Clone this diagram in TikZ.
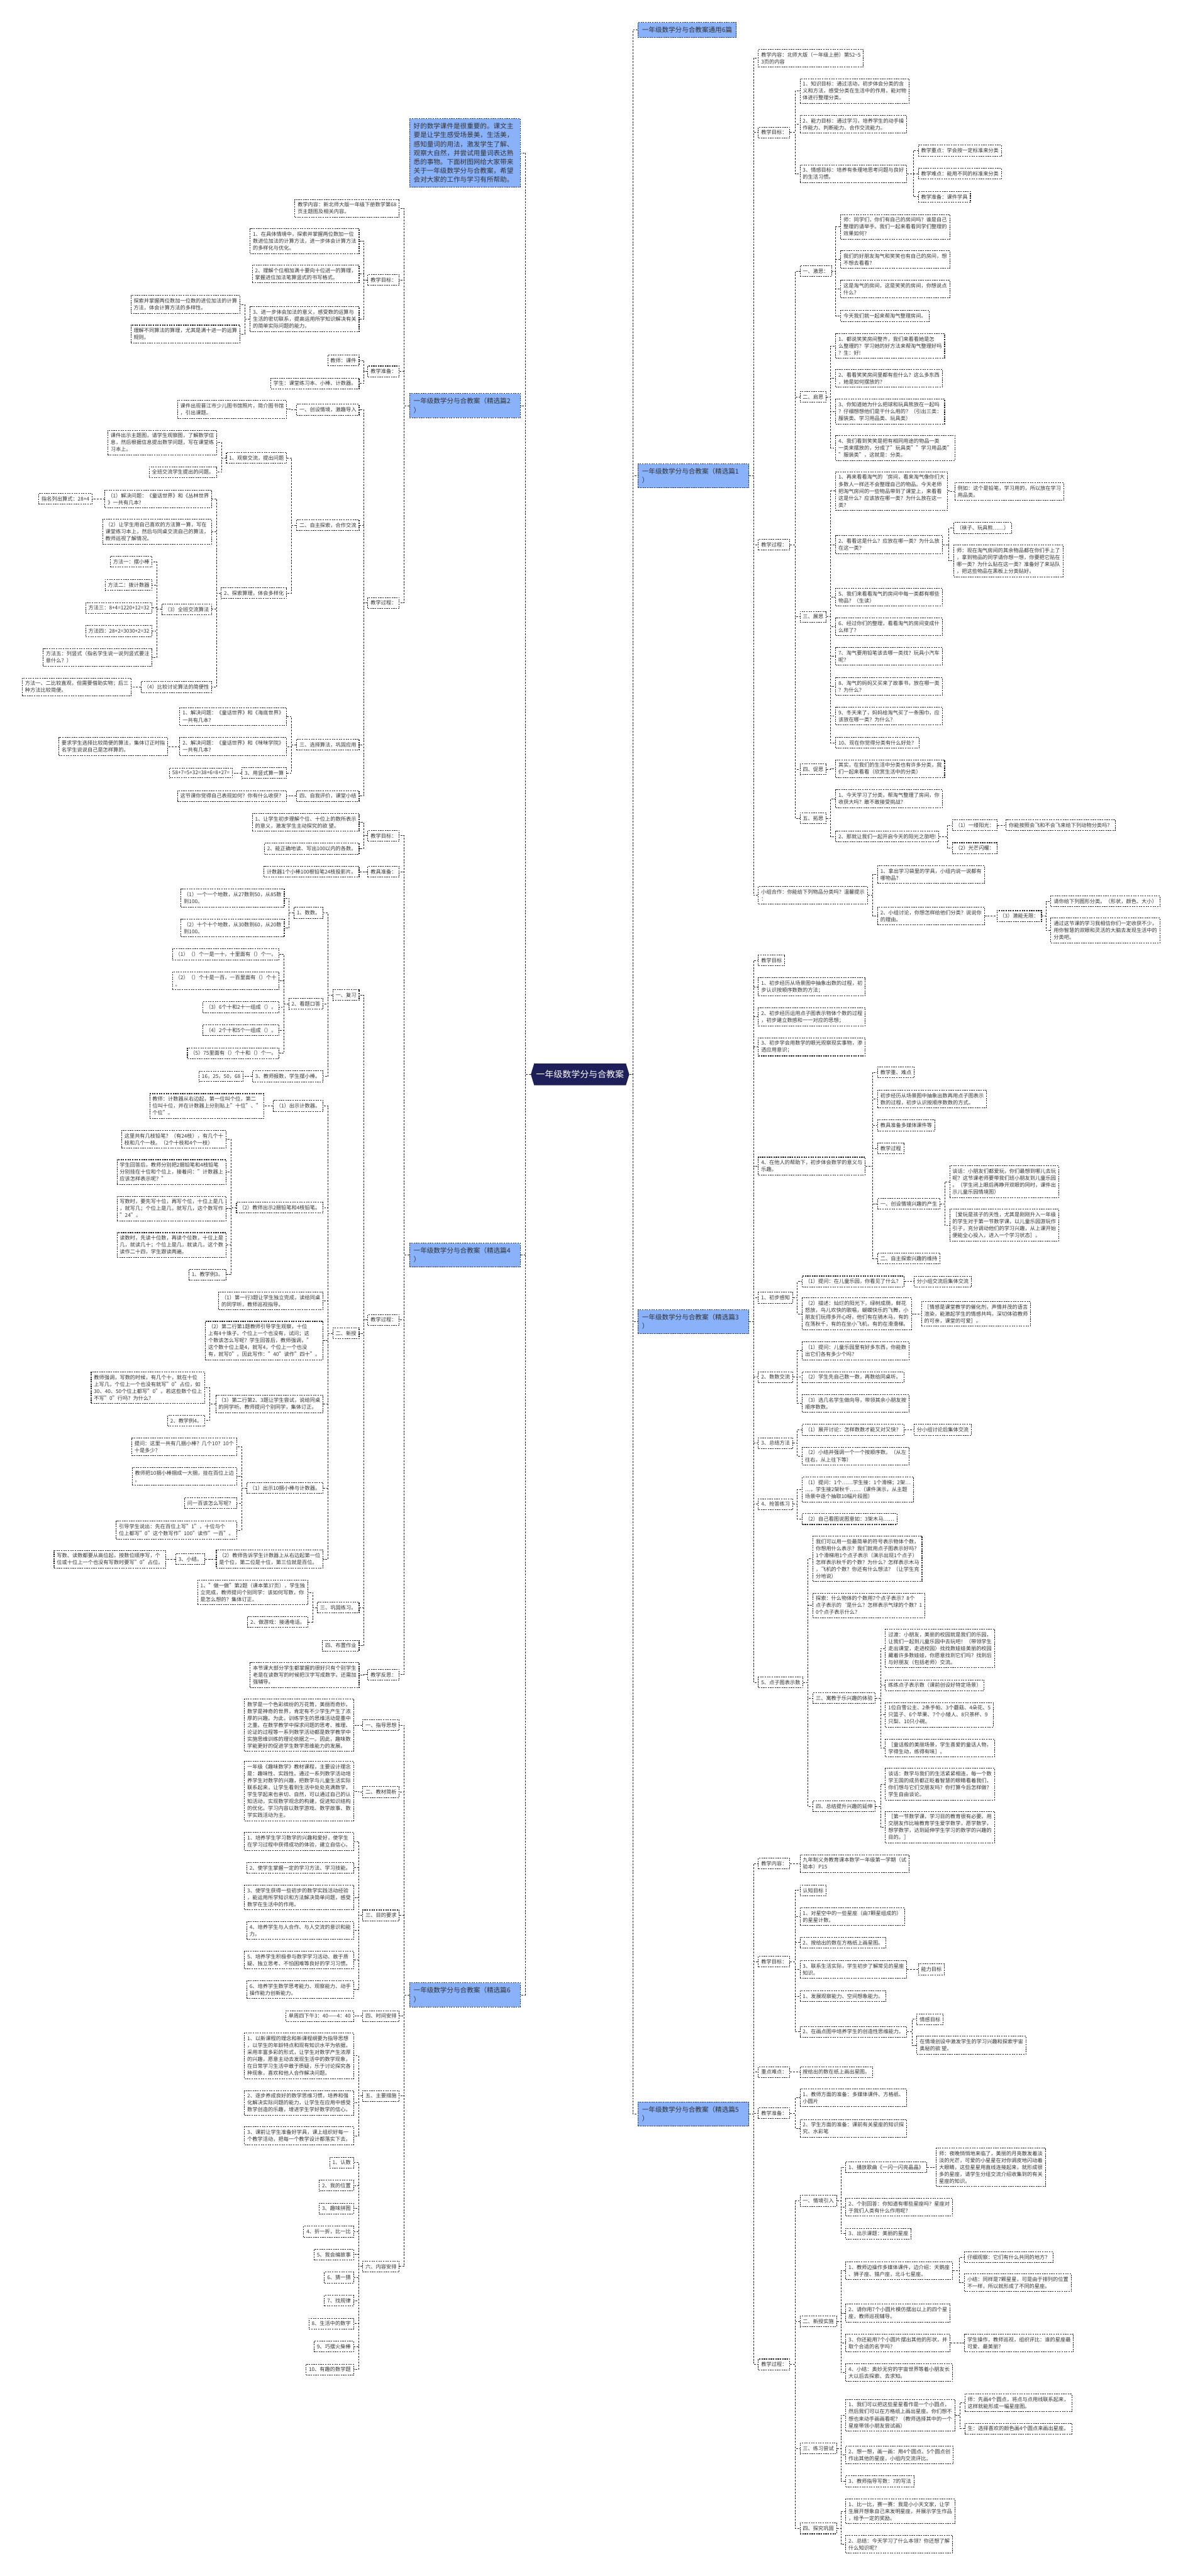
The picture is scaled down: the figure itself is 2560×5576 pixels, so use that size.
\documentclass[tikz,border=0pt]{standalone}
\usepackage{fontspec}
\setmainfont{Noto Sans CJK SC}
\usepackage{tikz}
\usetikzlibrary{calc,shapes.symbols}
\usepackage{xcolor}
\definecolor{mapnavy}{RGB}{30,31,88}
\definecolor{mapblue}{RGB}{138,178,250}
\definecolor{mapline}{RGB}{40,40,40}
\definecolor{mapedge}{RGB}{45,55,85}
\definecolor{maptext}{RGB}{50,50,50}

\begin{document}
\begin{tikzpicture}[
  x=1pt, y=-1pt,
  every node/.style={font=\fontsize{11.2}{15}\selectfont,text=maptext},
  leaf/.style={draw=mapline,fill=white,line width=1.4pt,dash pattern=on 3pt off 2pt,
    inner xsep=6pt,inner ysep=6.5pt,align=left},
  leafL/.style={leaf,anchor=east},
  leafR/.style={leaf,anchor=west},
  topic/.style={leaf,draw=mapedge,fill=mapblue,font=\fontsize{14.4}{19.3}\selectfont,
    inner xsep=9pt,inner ysep=9.5pt},
  topicL/.style={topic,anchor=east,text width=222pt},
  topicR/.style={topic,anchor=west},
  rootnode/.style={shape=signal,signal to=west and east,signal pointer angle=146,
    fill=mapnavy,text=white,font=\fontsize{19}{23}\selectfont,
    minimum width=213pt,minimum height=47pt,inner sep=0pt},
  link/.style={draw=mapline,line width=1.2pt,dash pattern=on 4pt off 2.5pt},
]
\useasboundingbox (0,0) rectangle (2560,5576);
\fill[white] (0,0) rectangle (2560,5576);

%% ── Centre ───────────────────────────────────────────────────────────────
\node[rootnode] (root) at (1255.5,2325.5) {一年级数学分与合教案};

%% ── Left main topics ─────────────────────────────────────────────────────
\node[topicL] (intro) at (1127,331) {好的数学课件是很重要的。课文主\\要是让学生感受场景美，生活美，\\感知量词的用法，激发学生了解、\\观察大自然，并尝试用量词表达熟\\悉的事物。下面树图网给大家带来\\关于一年级数学分与合教案，希望\\会对大家的工作与学习有所帮助。};
\node[topicL] (s2) at (1127,878) {一年级数学分与合教案（精选篇2\\）};
\node[topicL] (s4) at (1127,2717) {一年级数学分与合教案（精选篇4\\）};
\node[topicL] (s6) at (1127,4318) {一年级数学分与合教案（精选篇6\\）};

%% ── Right main topics ────────────────────────────────────────────────────
\node[topicR] (all6) at (1380,65) {一年级数学分与合教案通用6篇};
\node[topicR,text width=222pt] (s1) at (1380,1030) {一年级数学分与合教案（精选篇1\\）};
\node[topicR,text width=222pt] (s3) at (1380,2861) {一年级数学分与合教案（精选篇3\\）};
\node[topicR,text width=222pt] (s5) at (1380,4576) {一年级数学分与合教案（精选篇5\\）};

%% ── Part 2 ───────────────────────────────────────────────────────────────
\node[leafL] (s2a) at (865,451) {教学内容：新北师大版一年级下册数学第68\\页主题图及相关内容。};
\node[leafL] (s2b) at (865,606) {教学目标：};
\node[leafL] (s2c) at (865,804) {教学准备：};
\node[leafL] (s2d) at (865,1305) {教学过程：};
\node[leafL] (s2b1) at (778,522) {1、在具体情境中，探索并掌握两位数加一位\\数进位加法的计算方法，进一步体会计算方法\\的多样化与优化。};
\node[leafL] (s2b2) at (778,593) {2、理解个位相加满十要向十位进一的算理，\\掌握进位加法笔算竖式的书写格式。};
\node[leafL] (s2b3) at (778,691) {3、进一步体会加法的意义，感受数的运算与\\生活的密切联系，提高运用所学知识解决有关\\的简单实际问题的能力。};
\node[leafL] (s2b3a) at (520,659) {探索并掌握两位数加一位数的进位加法的计算\\方法，体会计算方法的多样性。};
\node[leafL] (s2b3b) at (520,723) {理解不同算法的算理，尤其是满十进一的运算\\规则。};
\node[leafL] (s2c1) at (778,780) {教师：课件};
\node[leafL] (s2c2) at (778,830) {学生：课堂练习本、小棒、计数器。};
\node[leafL] (s2d1) at (778,887) {一、创设情境，激趣导入};
\node[leafL] (s2d2) at (778,1137) {二、自主探索，合作交流};
\node[leafL] (s2d3) at (778,1612) {三、选择算法，巩固应用};
\node[leafL] (s2d4) at (778,1723) {四、自我评价，课堂小结};
\node[leafL] (s2d1a) at (621,886) {课件出现晋江市少儿图书馆照片，简介图书馆\\，引出课题。};
\node[leafL] (s2d2a) at (621,991) {1、观察交流，提出问题};
\node[leafL] (s2d2b) at (621,1284) {2、探索算理，体会多样化};
\node[leafL] (s2d2a1) at (470,958) {课件出示主题图，请学生观察图，了解数学信\\息，然后根据信息提出数学问题，写在课堂练\\习本上。};
\node[leafL] (s2d2a2) at (470,1022) {全班交流学生提出的问题。};
\node[leafL] (s2d2b1) at (459,1080) {（1）解决问题：《童话世界》和《丛林世界\\》一共有几本?};
\node[leafL] (s2d2b2) at (459,1151) {（2）让学生用自己喜欢的方法算一算，写在\\课堂练习本上，然后与同桌交流自己的算法，\\教师巡视了解情况。};
\node[leafL] (s2d2b3) at (459,1319) {（3）全班交流算法};
\node[leafL] (s2d2b4) at (459,1487) {（4）比较讨论算法的简便性};
\node[leafL] (s2d2b1x) at (200,1080) {指名列出算式：28+4};
\node[leafL] (s2d2b3m1) at (330,1216) {方法一：摆小棒};
\node[leafL] (s2d2b3m2) at (330,1266) {方法二：拨计数器};
\node[leafL] (s2d2b3m3) at (330,1316) {方法三：8+4=1220+12=32};
\node[leafL] (s2d2b3m4) at (330,1366) {方法四：28+2=3030+2=32};
\node[leafL] (s2d2b3m5) at (330,1423) {方法五：列竖式（指名学生说一说列竖式要注\\意什么？）};
\node[leafL] (s2d2b4x) at (285,1487) {方法一、二比较直观，但需要借助实物；后三\\种方法比较简便。};
\node[leafL] (s2d3a) at (621,1551) {1、解决问题：《童话世界》和《海底世界》\\一共有几本?};
\node[leafL] (s2d3b) at (621,1616) {2、解决问题：《童话世界》和《咪咪学院》\\一共有几本?};
\node[leafL] (s2d3c) at (621,1673) {3、用竖式算一算};
\node[leafL] (s2d3bx) at (364,1616) {要求学生选择比较简便的算法，集体订正时指\\名学生说说自己是怎样算的。};
\node[leafL] (s2d3cx) at (504,1673) {58+7=5+32=38+6=8+27=};
\node[leafL] (s2d4a) at (621,1723) {这节课你觉得自己表现如何？你有什么收获？};

%% ── Part 4 ───────────────────────────────────────────────────────────────
\node[leafL] (s4a) at (865,1809) {教学目标：};
\node[leafL] (s4b) at (865,1887) {教具准备：};
\node[leafL] (s4c) at (865,2857) {教学过程：};
\node[leafL] (s4d) at (865,3625) {教学反思：};
\node[leafL] (s4a1) at (778,1780) {1、让学生初步理解个位、十位上的数所表示\\的意义，激发学生主动探究的欲 望。};
\node[leafL] (s4a2) at (778,1837) {2、能正确地读、写出100以内的各数。};
\node[leafL] (s4b1) at (778,1887) {计数器1个小棒100根铅笔24枝投影片。};
\node[leafL] (s4c1) at (778,2154) {一、复习};
\node[leafL] (s4c2) at (778,2886) {二、新授};
\node[leafL] (s4c3) at (778,3480) {三、巩固练习。};
\node[leafL] (s4c4) at (778,3562) {四、布置作业};
\node[leafL] (s4c1a) at (700,1976) {1、数数。};
\node[leafL] (s4c1b) at (700,2173) {2、看题口答};
\node[leafL] (s4c1c) at (700,2330) {3、教师报数，学生摆小棒。};
\node[leafL] (s4c1a1) at (616,1944) {（1）一个一个地数，从27数到50，从85数\\到100。};
\node[leafL] (s4c1a2) at (616,2009) {（2）十个十个地数，从30数到60，从20数\\到100。};
\node[leafL] (s4c1b1) at (605,2066) {（1）（）个一是一十，十里面有（）个一。};
\node[leafL] (s4c1b2) at (605,2123) {（2）（）个十是一百，一百里面有（）个十\\。};
\node[leafL] (s4c1b3) at (605,2180) {（3）6个十和2十一组成（）。};
\node[leafL] (s4c1b4) at (605,2230) {（4）2个十和5个一组成（）。};
\node[leafL] (s4c1b5) at (605,2280) {（5）75里面有（）个十和（）个一。};
\node[leafL] (s4c1c1) at (527,2330) {16，25，50，68};
\node[leafL] (s4c2a) at (700,2394) {（1）出示计数器。};
\node[leafL] (s4c2b) at (700,2614) {（2）教师出示2捆铅笔和4枝铅笔。};
\node[leafL] (s4c2c) at (700,2816) {（1）第一行3题让学生独立完成，读给同桌\\的同学听，教师巡视指导。};
\node[leafL] (s4c2d) at (700,2902) {（2）第二行第1题教师引导学生观察，十位\\上有4十珠子。个位上一个也没有，试问；这\\个数该怎么写呢？学生回答后，教师强调，"\\这个数十位上是4，就写4，个位上一个也没\\有，就写0"。因此写作："40"读作"四十"。};
\node[leafL] (s4c2e) at (700,3039) {（3）第二行第2、3题让学生尝试，说给同桌\\的同学听。教师提问个别同学，集体订正。};
\node[leafL] (s4c2f) at (700,3221) {（1）出示10捆小棒与计数器。};
\node[leafL] (s4c2g) at (700,3375) {（2）教师告诉学生计数器上从右边起第一位\\是个位，第二位是十位，第三位就是百位。};
\node[leafL] (s4c2a1) at (572,2394) {教师：计数器从右边起，第一位叫个位，第二\\位叫十位，并在计数器上分别贴上"十位"、"\\个位"。};
\node[leafL] (s4c2b1) at (490,2466) {这里共有几枝铅笔？（有24枝），有几个十\\枝和几个一枝。（2个十枝和4个一枝）};
\node[leafL] (s4c2b2) at (490,2537) {学生回答后，教师分别把2捆铅笔和4枝铅笔\\分别挂在十位和个位上，接着问："计数器上\\应该怎样表示呢？"};
\node[leafL] (s4c2b3) at (490,2616) {写数时，要先写十位，再写个位，十位上是几\\，就写几；个位上是几，就写几，这个数写作\\"24"。};
\node[leafL] (s4c2b4) at (490,2695) {读数时，先读十位数，再读个位数，十位上是\\几，就读几十；个位上是几，就读几，这个数\\读作二十四，学生跟读两遍。};
\node[leafL] (s4c2b5) at (490,2759) {1、教学例3。};
\node[leafL] (s4c2e1) at (444,3004) {教师强调，写数的时候，有几个十，就在十位\\上写几，个位上一个也没有就写"0"占位，如\\30、40、50个位上都写"0"。若这些数个位上\\不写"0"行吗？为什么？};
\node[leafL] (s4c2e2) at (444,3075) {2、教学例4。};
\node[leafL] (s4c2f1) at (513,3132) {提问：这里一共有几捆小棒？几个10？10个\\十是多少？};
\node[leafL] (s4c2f2) at (513,3196) {教师把10捆小棒捆成一大捆，挂在百位上边\\。};
\node[leafL] (s4c2f3) at (513,3254) {问一百该怎么写呢？};
\node[leafL] (s4c2f4) at (513,3312) {引导学生说出：先在百位上写"1"，十位与个\\位上都写"0"这个数写作"100"读作"一百"。};
\node[leafL] (s4c2g1) at (444,3375) {3、小结。};
\node[leafL] (s4c2g1x) at (360,3375) {写数、读数都要从高位起，按数位顺序写，个\\位或十位上一个也没有写数时要写"0"占位。};
\node[leafL] (s4c3a) at (667,3447) {1、"做一做"第2题（课本第37页），学生独\\立完成，教师提问个别同学：该如何写数，你\\是怎么想的？集体订正。};
\node[leafL] (s4c3b) at (667,3511) {2、做游戏：接通电话。};
\node[leafL] (s4d1) at (778,3626) {本节课大部分学生都掌握的很好只有个别学生\\老是在读数写的时候把汉字写成数字。还需加\\强辅导。};

%% ── Part 6 ───────────────────────────────────────────────────────────────
\node[leafL] (s6a) at (865,3734) {一、指导思想};
\node[leafL] (s6b) at (865,3879) {二、教材简析};
\node[leafL] (s6c) at (865,4146) {三、目的要求};
\node[leafL] (s6d) at (865,4364) {四、时间安排};
\node[leafL] (s6e) at (865,4537) {五、主要措施};
\node[leafL] (s6f) at (865,4906) {六、内容安排};
\node[leafL] (s6a1) at (766,3734) {数学是一个色彩缤纷的万花筒，美丽而奇妙。\\数学是神奇的世界，肯定有不少学生产生了浓\\厚的兴趣。为此，训练学生的思维活动是重中\\之重。在数学教学中探求问题的思考、推理、\\论证的过程等一系列数学活动都是数学教学中\\实施思维训练的理论依据之一。因此，趣味数\\学能更好的促进学生数学思维能力的发展。};
\node[leafL] (s6b1) at (766,3877) {一年级《趣味数学》教材课程，主要设计理念\\是：趣味性、实践性。通过一系列数学活动培\\养学生对数学的兴趣，把数学与儿童生活实际\\联系起来，让学生看到生活中处处充满数学，\\学生学起来也亲切、自然，可以通过自己的认\\知活动，实现数学观念的构建，促进知识结构\\的优化。学习内容以数学游戏、数学故事、数\\学实践活动为主。};
\node[leafL] (s6c1) at (766,3986) {1、培养学生学习数学的兴趣和爱好，使学生\\在学习过程中获得成功的体验，建立自信心。};
\node[leafL] (s6c2) at (766,4043) {2、使学生掌握一定的学习方法、学习技能。};
\node[leafL] (s6c3) at (766,4107) {3、使学生获得一些初步的数学实践活动经验\\，能运用所学知识和方法解决简单问题，感受\\数学在生活中的作用。};
\node[leafL] (s6c4) at (766,4179) {4、培养学生与人合作、与人交流的意识和能\\力。};
\node[leafL] (s6c5) at (766,4243) {5、培养学生积极参与数学学习活动、敢于质\\疑、独立思考、不怕困难等良好的学习习惯。};
\node[leafL] (s6c6) at (766,4307) {6、培养学生数学思考能力、观察能力、动手\\操作能力创新能力。};
\node[leafL] (s6d1) at (766,4364) {单周四下午3：40——4：40};
\node[leafL] (s6e1) at (766,4450) {1、以新课程的理念和新课程纲要为指导思想\\，以学生的年龄特点和现有知识水平为依据，\\采用丰富多彩的形式，让学生对数学产生浓厚\\的兴趣，愿意主动去发现生活中的数学现象，\\在日常学习生活中敢于质疑，乐于讨论探究各\\种现象，喜欢和他人合作解决问题。};
\node[leafL] (s6e2) at (766,4552) {2、逐步养成良好的数学思维习惯，培养和强\\化解决实际问题的能力，让学生在应用中感受\\数学创造的乐趣，增进学生学好数学的信心。};
\node[leafL] (s6e3) at (766,4623) {3、课前让学生准备好学具，课上组织好每一\\个教学活动，把每一个教学设计都落实下去。};
\foreach \t [count=\i] in {1、认数,2、我的位置,3、趣味拼图,4、折一折，比一比,5、我会编故事,6、猜一猜,7、找规律,8、生活中的数字,9、巧摆火柴棒,10、有趣的数学题}
  \node[leafL] (s6f\i) at (766,{4681+49.8*(\i-1)}) {\t};

%% ── Part 1 ───────────────────────────────────────────────────────────────
\node[leafR] (s1a) at (1641,126) {教学内容：北师大版（一年级上册）第52\textasciitilde5\\3页的内容};
\node[leafR] (s1b) at (1641,287) {教学目标：};
\node[leafR] (s1c) at (1641,1179) {教学过程：};
\node[leafR] (s1d) at (1641,1938) {小组合作：你能给下列物品分类吗？温馨提示\\：};
\node[leafR] (s1b1) at (1731,197) {1、知识目标：通过活动，初步体会分类的含\\义和方法，感受分类在生活中的作用，能对物\\体进行整理分类。};
\node[leafR] (s1b2) at (1731,269) {2、能力目标：通过学习，培养学生的动手操\\作能力、判断能力、合作交流能力。};
\node[leafR] (s1b3) at (1731,376) {3、情感目标：培养有条理地思考问题与良好\\的生活习惯。};
\node[leafR] (s1b3a) at (1987,326) {教学重点：学会按一定标准来分类};
\node[leafR] (s1b3b) at (1987,376) {教学难点：能用不同的标准来分类};
\node[leafR] (s1b3c) at (1987,426) {教学准备：课件学具};
\node[leafR] (s1c1) at (1731,587) {一、激思：};
\node[leafR] (s1c2) at (1731,859) {二、启思};
\node[leafR] (s1c3) at (1731,1335) {三、展思};
\node[leafR] (s1c4) at (1731,1665) {四、促思};
\node[leafR] (s1c5) at (1731,1771) {五、拓思};
\node[leafR] (s1c1a) at (1819,491) {师：同学们，你们有自己的房间吗？谁是自己\\整理的请举手。我们一起来看看同学们整理的\\效果如何？};
\node[leafR] (s1c1b) at (1819,562) {我们的好朋友淘气和笑笑也有自己的房间，想\\不想去看看？};
\node[leafR] (s1c1c) at (1819,626) {这是淘气的房间，这是笑笑的房间，你想说点\\什么？};
\node[leafR] (s1c1d) at (1819,684) {今天我们就一起来帮淘气整理房间。};
\node[leafR] (s1c2a) at (1808,749) {1、都说笑笑房间整齐，我们来看看她是怎\\么整理的？学习她的好方法来帮淘气整理好吗\\？生：好!};
\node[leafR] (s1c2b) at (1808,819) {2、看看笑笑房间里都有些什么？这么多东西\\，她是如何摆放的？};
\node[leafR] (s1c2c) at (1808,891) {3、你知道她为什么把球和玩具熊放在一起吗\\？仔细想想他们是干什么用的？（引出三类：\\服装类、学习用品类、玩具类）};
\node[leafR] (s1c2d) at (1808,970) {4、我们看到笑笑是把有相同用途的物品一类\\一类来摆放的，分成了"玩具类""学习用品类"\\"服装类"，这就是：分类。};
\node[leafR] (s1c3a) at (1808,1063) {1、再来看看淘气的`房间，看来淘气像你们大\\多数人一样还不会整理自己的物品。今天老师\\把淘气房间的一些物品带到了课堂上，来看看\\这是什么？应该放在哪一类？为什么放在这一\\类？};
\node[leafR] (s1c3ax) at (2066,1064) {例如：这个是铅笔，学习用的，所以放在学习\\用品类。};
\node[leafR] (s1c3b) at (1808,1179) {2、看看这是什么？应放在哪一类？为什么放\\在这一类？};
\node[leafR] (s1c3b1) at (2064,1143) {（袜子、玩具熊……）};
\node[leafR] (s1c3b2) at (2064,1214) {师：现在淘气房间的其余物品都在你们手上了\\，拿到物品的同学请你想一想，你要把它贴在\\哪一类？为什么贴在这一类？准备好了来站队\\，把这些物品在黑板上分类贴好。};
\node[leafR] (s1c3c) at (1808,1293) {5、我们来看看淘气的房间中每一类都有哪些\\物品？（生读）};
\node[leafR] (s1c3d) at (1808,1357) {6、经过你们的整理，看看淘气的房间变成什\\么样了？};
\node[leafR] (s1c3e) at (1808,1421) {7、淘气要用铅笔该去哪一类找？玩具小汽车\\呢？};
\node[leafR] (s1c3f) at (1808,1486) {8、淘气的妈妈又买来了故事书，放在哪一类\\？为什么？};
\node[leafR] (s1c3g) at (1808,1550) {9、冬天来了，妈妈给淘气买了一条围巾，应\\该放在哪一类？为什么？};
\node[leafR] (s1c3h) at (1808,1608) {10、现在你觉得分类有什么好处？};
\node[leafR] (s1c4a) at (1808,1664) {其实，在我们的生活中分类也有许多分类，我\\们一起来看看（欣赏生活中的分类）};
\node[leafR] (s1c5a) at (1808,1729) {1、今天学习了分类，帮淘气整理了房间，你\\收获大吗？敢不敢接受挑战？};
\node[leafR] (s1c5b) at (1808,1811) {2、那就让我们一起开启今天的阳光之旅吧!};
\node[leafR] (s1c5b1) at (2061,1786) {（1）一缕阳光：};
\node[leafR] (s1c5b1x) at (2177,1786) {你能按照会飞和不会飞来给下列动物分类吗？};
\node[leafR] (s1c5b2) at (2061,1836) {（2）光芒闪耀：};
\node[leafR] (s1d1) at (1899,1893) {1、拿出学习袋里的学具，小组内说一说都有\\哪物品？};
\node[leafR] (s1d2) at (1899,1983) {2、小组讨论，你想怎样给他们分类？说说你\\的理由。};
\node[leafR] (s1d2a) at (2157,1983) {（3）潜能无限：};
\node[leafR] (s1d2a1) at (2274,1951) {请你给下列图形分类。（形状，颜色、大小）};
\node[leafR] (s1d2a2) at (2274,2014) {通过这节课的学习我相信你们一定收获不少，\\用你智慧的双眼和灵活的大脑去发现生活中的\\分类吧。};

%% ── Part 3 ───────────────────────────────────────────────────────────────
\node[leafR] (s3a) at (1641,2079) {教学目标};
\node[leafR] (s3b) at (1641,2136) {1、初步经历从场景图中抽象出数的过程，初\\步认识按顺序数数的方法；};
\node[leafR] (s3c) at (1641,2201) {2、初步经历运用点子图表示物体个数的过程\\，初步建立数感和一一对应的思想；};
\node[leafR] (s3d) at (1641,2266) {3、初步学会用数学的眼光观察现实事物，渗\\透应用意识；};
\node[leafR] (s3e) at (1641,2524) {4、在他人的帮助下，初步体会数学的意义与\\乐趣。};
\node[leafR] (s3f) at (1641,2809) {1、初步感知};
\node[leafR] (s3g) at (1641,2981) {2、数数交流};
\node[leafR] (s3h) at (1641,3124) {3、总结方法};
\node[leafR] (s3i) at (1641,3256) {4、抢答练习};
\node[leafR] (s3j) at (1641,3642) {5、点子图表示数};
\node[leafR] (s3e1) at (1899,2321) {教学重、难点};
\node[leafR] (s3e2) at (1899,2379) {初步经历从场景图中抽象出数再用点子图表示\\数的过程，初步认识按顺序数数的方式。};
\node[leafR] (s3e3) at (1899,2436) {教具准备多媒体课件等};
\node[leafR] (s3e4) at (1899,2486) {教学过程};
\node[leafR] (s3e5) at (1899,2606) {一、创设情境兴趣的产生};
\node[leafR] (s3e6) at (1899,2724) {二、自主探索兴趣的维持};
\node[leafR] (s3e5a) at (2055,2558) {谈话：小朋友们都爱玩，你们最想到哪儿去玩\\呢？这节课老师要带我们班小朋友到儿童乐园\\。（学生闭上眼后再睁开双眼的同时，课件出\\示儿童乐园情境图）};
\node[leafR] (s3e5b) at (2055,2652) {［爱玩是孩子的天性，尤其是刚刚升入一年级\\的学生对于第一节数学课，以儿童乐园游玩作\\引子，充分调动他们的学习兴趣，从上课开始\\便能全心投入，进入一个学习状态］。};
\node[leafR] (s3f1) at (1736,2774) {（1）提问：在儿童乐园，你看见了什么？};
\node[leafR] (s3f1x) at (1978,2774) {分小组交流后集体交流};
\node[leafR] (s3f2) at (1736,2844) {（2）描述：灿烂的阳光下，绿树成荫，鲜花\\怒放，鸟儿欢快的歌唱，蝴蝶快乐的飞舞，小\\朋友们玩得多开心呀，他们有在骑木马，有的\\在荡秋千，有的在坐小飞机，有的在滑滑梯。};
\node[leafR] (s3f2x) at (1994,2844) {［情感是课堂教学的催化剂，声情并茂的语言\\渲染，能激起学生的情感共鸣，深切体验教师\\的可亲，课堂的可爱］。};
\node[leafR] (s3g1) at (1736,2924) {（1）提问：儿童乐园里有好多东西，你能数\\出它们各有多少个吗？};
\node[leafR] (s3g2) at (1736,2981) {（2）学生先自己数一数，再数给同桌听。};
\node[leafR] (s3g3) at (1736,3038) {（3）选几名学生做向导，带领其余小朋友按\\顺序数数。};
\node[leafR] (s3h1) at (1736,3095) {（1）展开讨论：怎样数数才能又对又快？};
\node[leafR] (s3h1x) at (1978,3095) {分小组讨论后集体交流};
\node[leafR] (s3h2) at (1736,3152) {（2）小结并强调一个一个按顺序数。（从左\\往右，从上往下等）};
\node[leafR] (s3i1) at (1736,3224) {（1）提问：1个……学生接：1个滑梯；2架…\\…，学生接2架秋千……（课件演示，从主题\\场景中逐个抽取10幅片段图）};
\node[leafR] (s3i2) at (1736,3288) {（2）自己看图说图意如：3架木马……};
\node[leafR] (s3j1) at (1759,3374) {我们可以用一些最简单的符号表示物体个数，\\你想用什么表示？我们就用点子图表示好吗？\\1个滑梯用1个点子表示（演示出现1个点子）\\怎样表示秋千的个数？为什么？怎样表示木马\\，飞机的个数？你还有什么想法？（让学生充\\分地说）};
\node[leafR] (s3j2) at (1759,3475) {探索：什么物体的个数用7个点子表示？8个\\点子表示的`是什么？怎样表示气球的个数？1\\0个点子表示什么？};
\node[leafR] (s3j3) at (1759,3676) {三、寓教于乐兴趣的体验};
\node[leafR] (s3j4) at (1759,3910) {四、总结提升兴趣的延伸};
\node[leafR] (s3j3a) at (1916,3568) {过渡：小朋友，美丽的校园就是我们的乐园，\\让我们一起到儿童乐园中去玩吧！（带领学生\\走出课堂，走进校园）找找数娃娃美丽的校园\\藏着许多数娃娃，你愿意找到它们吗？找到后\\与好朋友（包括老师）交流。};
\node[leafR] (s3j3b) at (1916,3648) {练练点子表示数（课前创设好特定场景）};
\node[leafR] (s3j3c) at (1916,3712) {1位白雪公主、2条手帕、3个蘑菇、4朵花、5\\只篮子、6个苹果、7个小矮人、8只茶杯、9\\只梨、10只小碗。};
\node[leafR] (s3j3d) at (1916,3784) {［童话般的美丽场景，学生喜爱的童话人物，\\学得生动，练得有味］。};
\node[leafR] (s3j4a) at (1916,3862) {谈话：数学与我们的生活紧紧相连，每一个数\\学王国的成员都正眨着智慧的眼睛看着我们，\\你们想与它们交朋友吗？你打算今后怎样做？\\学生自由谈论。};
\node[leafR] (s3j4b) at (1916,3955) {［第一节数学课，学习目的教育很有必要。用\\交朋友作比喻教育学生爱学数学，愿学数学，\\想学数学，达到延伸学生学习的数学的兴趣的\\目的。］};

%% ── Part 5 ───────────────────────────────────────────────────────────────
\node[leafR] (s5a) at (1641,4034) {教学内容：};
\node[leafR] (s5b) at (1641,4246) {教学目标：};
\node[leafR] (s5c) at (1641,4485) {重点难点：};
\node[leafR] (s5d) at (1641,4574) {教学准备：};
\node[leafR] (s5e) at (1641,5118) {教学过程：};
\node[leafR] (s5a1) at (1731,4034) {九年制义务教育课本数学一年级第一学期（试\\验本）P15};
\node[leafR] (s5b1) at (1731,4092) {认知目标};
\node[leafR] (s5b2) at (1731,4149) {1、对星空中的一些星座（由7颗星组成的）\\的星星计数。};
\node[leafR] (s5b3) at (1731,4205) {2、按给出的数在方格纸上画星图。};
\node[leafR] (s5b4) at (1731,4263) {3、联系生活实际，学生初步了解常见的星座\\知识。};
\node[leafR] (s5b4x) at (1987,4263) {能力目标};
\node[leafR] (s5b5) at (1731,4321) {1、发展观察能力、空间想象能力。};
\node[leafR] (s5b6) at (1731,4398) {2、在画点图中培养学生的创造性思维能力。};
\node[leafR] (s5b6a) at (1984,4371) {情感目标};
\node[leafR] (s5b6b) at (1984,4427) {在情境创设中激发学生的学习兴趣和探索宇宙\\奥秘的欲 望。};
\node[leafR] (s5c1) at (1731,4485) {按给出的数在纸上画出星图。};
\node[leafR] (s5d1) at (1731,4541) {1、教师方面的准备：多媒体课件、方格纸、\\小圆片};
\node[leafR] (s5d2) at (1731,4607) {2、学生方面的准备：课前有关星座的知识探\\究、水彩笔};
\node[leafR] (s5e1) at (1731,4764) {一、情境引入};
\node[leafR] (s5e2) at (1731,5025) {二、新授实施};
\node[leafR] (s5e3) at (1731,5300) {三、练习尝试};
\node[leafR] (s5e4) at (1731,5473) {四、探究巩固};
\node[leafR] (s5e1a) at (1830,4691) {1、播放歌曲《一闪一闪亮晶晶》};
\node[leafR] (s5e1ax) at (2026,4691) {师：夜晚悄悄地来临了，美丽的月亮散发着淡\\淡的光芒，可爱的小星星在对你调皮地闪动着\\大眼睛，这些星星用直线连接起来，就形成很\\多的星座，请学生分组交流介绍收集到的有关\\星座的知识。};
\node[leafR] (s5e1b) at (1830,4778) {2、个别回答：你知道有哪些星座吗？星座对\\于我们人类有什么作用呢？};
\node[leafR] (s5e1c) at (1830,4835) {3、出示课题：美丽的星座};
\node[leafR] (s5e2a) at (1830,4915) {1、教师边操作多媒体课件，边介绍：天鹅座\\、狮子座、猎户座，北斗七星座。};
\node[leafR] (s5e2a1) at (2087,4886) {仔细观察：它们有什么共同的地方？};
\node[leafR] (s5e2a2) at (2087,4941) {小结：同样是7颗星星，可是由于排列的位置\\不一样，所以就形成了不同的星座。};
\node[leafR] (s5e2b) at (1830,5007) {2、请你用7个小圆片模仿摆出以上的四个星\\座，教师巡视辅导。};
\node[leafR] (s5e2c) at (1830,5072) {3、你还能用7个小圆片摆出其他的形状，并\\取个合适的名字吗？};
\node[leafR] (s5e2cx) at (2087,5072) {学生操作，教师巡视，组织评比：谁的星座最\\可爱、最美丽？};
\node[leafR] (s5e2d) at (1830,5136) {4、小结：奥妙无穷的宇宙世界等着小朋友长\\大以后去探索、去求知。};
\node[leafR] (s5e3a) at (1830,5228) {1、我们可以把这些星星看作是一个小圆点，\\然后我们可以在方格纸上画出星座。你们想不\\想也来动手画画看呢？（教师选择其中的一个\\星座带领小朋友尝试画）};
\node[leafR] (s5e3a1) at (2088,5201) {师：先画4个圆点，将点与点用线联系起来，\\这样就能形成一幅星座图。};
\node[leafR] (s5e3a2) at (2088,5257) {生：选择喜欢的颜色画4个圆点来画出星座。};
\node[leafR] (s5e3b) at (1830,5314) {2、想一想，画一画：用4个圆点、5个圆点创\\作出其他的星座，小组内交流评比。};
\node[leafR] (s5e3c) at (1830,5371) {3、教师指导写数：7的写法};
\node[leafR] (s5e4a) at (1830,5436) {1、比一比，赛一赛：我是小小天文家，让学\\生展开想象自己来发明星座，并展示学生作品\\，给予一定的奖励。};
\node[leafR] (s5e4b) at (1830,5507) {2、总结：今天学习了什么本领？你还想了解\\什么知识呢？};

%% ── Connectors, left side ────────────────────────────────────────────────
\foreach \p/\c in {root/intro,root/s2,root/s4,root/s6,
  s2/s2a,s2/s2b,s2/s2c,s2/s2d,s2b/s2b1,s2b/s2b2,s2b/s2b3,s2b3/s2b3a,s2b3/s2b3b,
  s2c/s2c1,s2c/s2c2,s2d/s2d1,s2d/s2d2,s2d/s2d3,s2d/s2d4,s2d1/s2d1a,
  s2d2/s2d2a,s2d2/s2d2b,s2d2a/s2d2a1,s2d2a/s2d2a2,
  s2d2b/s2d2b1,s2d2b/s2d2b2,s2d2b/s2d2b3,s2d2b/s2d2b4,s2d2b1/s2d2b1x,
  s2d2b3/s2d2b3m1,s2d2b3/s2d2b3m2,s2d2b3/s2d2b3m3,s2d2b3/s2d2b3m4,s2d2b3/s2d2b3m5,
  s2d2b4/s2d2b4x,s2d3/s2d3a,s2d3/s2d3b,s2d3/s2d3c,s2d3b/s2d3bx,s2d3c/s2d3cx,s2d4/s2d4a,
  s4/s4a,s4/s4b,s4/s4c,s4/s4d,s4a/s4a1,s4a/s4a2,s4b/s4b1,
  s4c/s4c1,s4c/s4c2,s4c/s4c3,s4c/s4c4,s4c1/s4c1a,s4c1/s4c1b,s4c1/s4c1c,
  s4c1a/s4c1a1,s4c1a/s4c1a2,s4c1b/s4c1b1,s4c1b/s4c1b2,s4c1b/s4c1b3,s4c1b/s4c1b4,s4c1b/s4c1b5,
  s4c1c/s4c1c1,s4c2/s4c2a,s4c2/s4c2b,s4c2/s4c2c,s4c2/s4c2d,s4c2/s4c2e,s4c2/s4c2f,s4c2/s4c2g,
  s4c2a/s4c2a1,s4c2b/s4c2b1,s4c2b/s4c2b2,s4c2b/s4c2b3,s4c2b/s4c2b4,s4c2b/s4c2b5,
  s4c2e/s4c2e1,s4c2e/s4c2e2,s4c2f/s4c2f1,s4c2f/s4c2f2,s4c2f/s4c2f3,s4c2f/s4c2f4,
  s4c2g/s4c2g1,s4c2g1/s4c2g1x,s4c3/s4c3a,s4c3/s4c3b,s4d/s4d1,
  s6/s6a,s6/s6b,s6/s6c,s6/s6d,s6/s6e,s6/s6f,s6a/s6a1,s6b/s6b1,
  s6c/s6c1,s6c/s6c2,s6c/s6c3,s6c/s6c4,s6c/s6c5,s6c/s6c6,s6d/s6d1,s6e/s6e1,s6e/s6e2,s6e/s6e3}
  \draw[link] (\p.west) -| ($(\c.east)+(10,0)$) -- (\c.east);
\foreach \i in {1,...,10}
  \draw[link] (s6f.west) -| ($(s6f\i.east)+(10,0)$) -- (s6f\i.east);

%% ── Connectors, right side ───────────────────────────────────────────────
\foreach \p/\c in {root/all6,root/s1,root/s3,root/s5,
  s1/s1a,s1/s1b,s1/s1c,s1/s1d,s1b/s1b1,s1b/s1b2,s1b/s1b3,s1b3/s1b3a,s1b3/s1b3b,s1b3/s1b3c,
  s1c/s1c1,s1c/s1c2,s1c/s1c3,s1c/s1c4,s1c/s1c5,
  s1c1/s1c1a,s1c1/s1c1b,s1c1/s1c1c,s1c1/s1c1d,s1c2/s1c2a,s1c2/s1c2b,s1c2/s1c2c,s1c2/s1c2d,
  s1c3/s1c3a,s1c3a/s1c3ax,s1c3/s1c3b,s1c3b/s1c3b1,s1c3b/s1c3b2,s1c3/s1c3c,s1c3/s1c3d,
  s1c3/s1c3e,s1c3/s1c3f,s1c3/s1c3g,s1c3/s1c3h,s1c4/s1c4a,s1c5/s1c5a,s1c5/s1c5b,
  s1c5b/s1c5b1,s1c5b1/s1c5b1x,s1c5b/s1c5b2,s1d/s1d1,s1d/s1d2,s1d2/s1d2a,s1d2a/s1d2a1,s1d2a/s1d2a2,
  s3/s3a,s3/s3b,s3/s3c,s3/s3d,s3/s3e,s3/s3f,s3/s3g,s3/s3h,s3/s3i,s3/s3j,
  s3e/s3e1,s3e/s3e2,s3e/s3e3,s3e/s3e4,s3e/s3e5,s3e/s3e6,s3e5/s3e5a,s3e5/s3e5b,
  s3f/s3f1,s3f1/s3f1x,s3f/s3f2,s3f2/s3f2x,s3g/s3g1,s3g/s3g2,s3g/s3g3,
  s3h/s3h1,s3h1/s3h1x,s3h/s3h2,s3i/s3i1,s3i/s3i2,
  s3j/s3j1,s3j/s3j2,s3j/s3j3,s3j/s3j4,s3j3/s3j3a,s3j3/s3j3b,s3j3/s3j3c,s3j3/s3j3d,
  s3j4/s3j4a,s3j4/s3j4b,
  s5/s5a,s5/s5b,s5/s5c,s5/s5d,s5/s5e,s5a/s5a1,
  s5b/s5b1,s5b/s5b2,s5b/s5b3,s5b/s5b4,s5b4/s5b4x,s5b/s5b5,s5b/s5b6,s5b6/s5b6a,s5b6/s5b6b,
  s5c/s5c1,s5d/s5d1,s5d/s5d2,s5e/s5e1,s5e/s5e2,s5e/s5e3,s5e/s5e4,
  s5e1/s5e1a,s5e1a/s5e1ax,s5e1/s5e1b,s5e1/s5e1c,
  s5e2/s5e2a,s5e2a/s5e2a1,s5e2a/s5e2a2,s5e2/s5e2b,s5e2/s5e2c,s5e2c/s5e2cx,s5e2/s5e2d,
  s5e3/s5e3a,s5e3a/s5e3a1,s5e3a/s5e3a2,s5e3/s5e3b,s5e3/s5e3c,s5e4/s5e4a,s5e4/s5e4b}
  \draw[link] (\p.east) -| ($(\c.west)+(-10,0)$) -- (\c.west);

\end{tikzpicture}
\end{document}
